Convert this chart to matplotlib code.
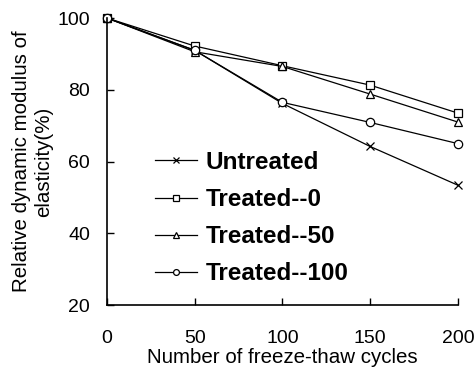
import matplotlib
matplotlib.use("Agg")
import matplotlib.pyplot as plt

# freeze-thaw cycles
cycles = [0, 50, 100, 150, 200]

# relative dynamic modulus (%)
untreated = [100, 91.0, 76.2, 64.2, 53.4]
treated_0 = [100, 92.2, 86.7, 81.3, 73.5]
treated_50 = [100, 90.6, 86.5, 78.8, 71.0]
treated_100 = [100, 91.0, 76.5, 70.9, 65.0]

labels = ["Untreated", "Treated--0", "Treated--50", "Treated--100"]
markers = ["x", "s", "^", "o"]

plt.rcParams['font.family'] = ['Liberation Sans', 'DejaVu Sans']

fig = plt.figure(figsize=(4.77, 3.79), dpi=100)
ax = fig.add_axes([0.224, 0.195, 0.736, 0.7575])

series = [untreated, treated_0, treated_50, treated_100]
for vals, lab, mk in zip(series, labels, markers):
	ax.plot(cycles, vals, color='black', linewidth=0.9, marker=mk,
		markersize=6, markerfacecolor='white', markeredgecolor='black',
		markeredgewidth=0.9, label=lab, clip_on=False)

ax.set_xlim(0, 200)
ax.set_ylim(20, 100)
ax.set_xticks([0, 50, 100, 150, 200])
ax.set_yticks([20, 40, 60, 80, 100])

for s in ['top', 'right']:
	ax.spines[s].set_visible(False)
for s in ['left', 'bottom']:
	ax.spines[s].set_linewidth(1.2)

ax.tick_params(axis='x', direction='in', length=5, width=1.0,
	labelsize=14, pad=18)
ax.tick_params(axis='y', direction='in', length=5, width=1.0,
	labelsize=14, pad=12)

ax.set_xlabel("Number of freeze-thaw cycles", fontsize=14.8, labelpad=0.5)
ax.set_ylabel("Relative dynamic modulus of\nelasticity(%)", fontsize=14.8,
	labelpad=3)

leg = ax.legend(loc='upper left', bbox_to_anchor=(0.137, 0.537),
	frameon=False, borderaxespad=0, borderpad=0,
	prop={'weight': 'bold', 'size': 17.5}, handlelength=1.73,
	handletextpad=0.37, labelspacing=0.58, markerscale=0.7)

fig.savefig("out.png", dpi=100)
